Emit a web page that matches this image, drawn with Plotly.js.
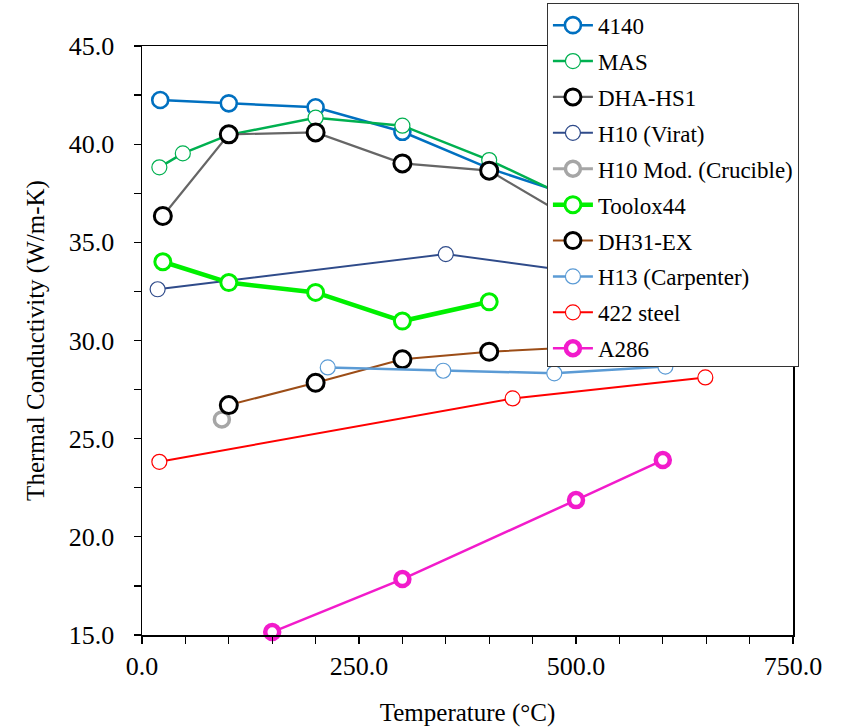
<!DOCTYPE html>
<html>
<head>
<meta charset="utf-8">
<script src="https://cdn.plot.ly/plotly-3.0.1.min.js"></script>
<style>html,body{margin:0;padding:0;background:#fff;}#chart{width:844px;height:728px;}</style>
</head>
<body>
<div id="chart"></div>
<script>
// Temperatures (°C) and thermal conductivity (W/m-K) per material
const seriesNames = ['4140','MAS','DHA-HS1','H10 (Virat)','H10 Mod. (Crucible)','Toolox44','DH31-EX','H13 (Carpenter)','422 steel','A286'];

const x4140 = [21, 100, 200, 300, 400, 500];
const y4140 = [42.25, 42.08, 41.88, 40.63, 38.77, 37.3];

const xMAS = [20, 47, 100, 200, 300, 400, 500];
const yMAS = [38.82, 39.53, 40.47, 41.35, 40.94, 39.19, 37.1];

const xDHA = [24, 100, 200, 300, 400, 500];
const yDHA = [36.34, 40.50, 40.60, 39.02, 38.65, 36.05];

const xH10V = [18, 350, 500];
const yH10V = [32.61, 34.40, 33.5];

const xH10M = [92];
const yH10M = [25.98];

const xToolox = [24, 100, 200, 300, 400];
const yToolox = [34.01, 32.95, 32.45, 30.99, 31.97];

const xDH31 = [100, 200, 300, 400, 500];
const yDH31 = [26.71, 27.85, 29.04, 29.43, 29.65];

const xH13 = [214, 347, 475, 603];
const yH13 = [28.63, 28.46, 28.33, 28.67];

const x422 = [20, 427, 649];
const y422 = [23.82, 27.05, 28.12];

const xA286 = [150, 300, 500, 600];
const yA286 = [15.15, 17.85, 21.87, 23.91];

const xTickVals = [0, 250, 500, 750];
const yTickVals = [15, 20, 25, 30, 35, 40, 45];

const SERIF = '"Liberation Serif", "Times New Roman", Times, serif';

function tr(i, xs, ys, lineColor, lineWidth, mkColor, mkSize, mkLine) {
  return {
    type: 'scatter', mode: 'lines+markers', name: seriesNames[i],
    legendgroup: 'g' + i,
    x: xs, y: ys, cliponaxis: false,
    line: {color: lineColor, width: lineWidth},
    marker: {symbol: 'circle', size: mkSize, color: '#ffffff', line: {color: mkColor, width: mkLine}}
  };
}

const traces = [
  tr(0, x4140, y4140, '#0070C0', 2.5, '#0070C0', 16, 2.6),
  tr(1, xMAS, yMAS, '#00B050', 2.5, '#00B050', 15, 1.2),
  tr(2, xDHA, yDHA, '#666666', 2.2, '#000000', 17, 3),
  tr(3, xH10V, yH10V, '#2F4B8A', 2, '#2F4B8A', 15, 1.2),
  tr(4, xH10M, yH10M, '#A6A6A6', 3, '#A6A6A6', 15, 3.5),
  tr(5, xToolox, yToolox, '#00F000', 4.5, '#00F000', 16, 3),
  tr(6, xDH31, yDH31, '#9C4D17', 2, '#000000', 17, 3),
  tr(7, xH13, yH13, '#5B9BD5', 2.5, '#5B9BD5', 15, 1.2),
  tr(8, x422, y422, '#FF0000', 2, '#FF0000', 15, 1.2),
  tr(9, xA286, yA286, '#F21BCB', 2.5, '#F21BCB', 14, 4.5)
];

const layout = {
  width: 844, height: 728,
  margin: {l: 142, r: 51, t: 46, b: 93, pad: 0, autoexpand: false},
  paper_bgcolor: '#ffffff', plot_bgcolor: '#ffffff',
  font: {family: SERIF, color: '#000000', size: 26},
  showlegend: true,
  xaxis: {
    range: [0, 750], tickvals: xTickVals, tickformat: '.1f',
    ticks: 'outside', ticklen: 7, tickwidth: 1.2, tickcolor: '#000',
    minor: {dtick: 50, ticks: 'outside', ticklen: 7, tickwidth: 1.2, tickcolor: '#000', showgrid: false},
    showgrid: false, zeroline: false, automargin: false,
    showline: true, linecolor: '#000', linewidth: 1.5, mirror: true,
    tickfont: {size: 26, family: SERIF, color: '#000'},
    title: {text: 'Temperature (°C)', font: {size: 25, family: SERIF, color: '#000'}, standoff: 24}
  },
  yaxis: {
    range: [15, 45], tickvals: yTickVals, tickformat: '.1f',
    ticks: 'outside', ticklen: 7, tickwidth: 1.2, tickcolor: '#000',
    minor: {dtick: 2.5, ticks: 'outside', ticklen: 7, tickwidth: 1.2, tickcolor: '#000', showgrid: false},
    showgrid: false, zeroline: false, automargin: false,
    showline: true, linecolor: '#000', linewidth: 1.5, mirror: true,
    tickfont: {size: 26, family: SERIF, color: '#000'}, ticklabelstandoff: 14,
    title: {text: 'Thermal Conductivity (W/m-K)', font: {size: 25, family: SERIF, color: '#000'}, standoff: 17}
  },
  legend: {
    x: 0.622, y: 1.0735, xanchor: 'left', yanchor: 'top',
    bgcolor: '#ffffff', bordercolor: '#333333', borderwidth: 1,
    font: {size: 23, family: SERIF, color: '#000'},
    tracegroupgap: 3, traceorder: 'grouped', itemwidth: 40
  }
};

Plotly.newPlot('chart', traces, layout, {displayModeBar: false, staticPlot: true});
</script>
</body>
</html>
